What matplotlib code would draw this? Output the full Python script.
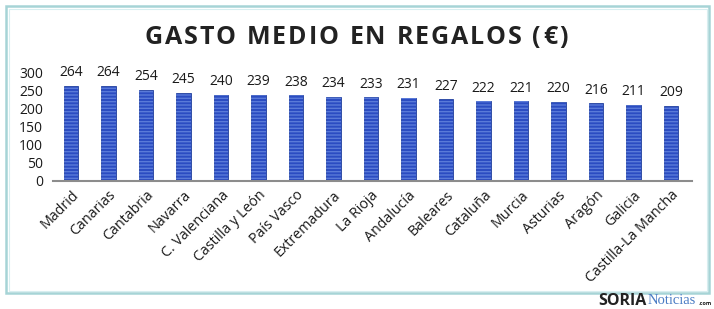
import matplotlib.pyplot as plt
from matplotlib.patches import Rectangle

# Datos
regiones = ['Madrid', 'Canarias', 'Cantabria', 'Navarra', 'C. Valenciana',
            'Castilla y León', 'País Vasco', 'Extremadura', 'La Rioja',
            'Andalucía', 'Baleares', 'Cataluña', 'Murcia', 'Asturias',
            'Aragón', 'Galicia', 'Castilla-La Mancha']
gasto = [264, 264, 254, 245, 240, 239, 238, 234, 233, 231, 227, 222, 221,
         220, 216, 211, 209]
y_ticks = [0, 50, 100, 150, 200, 250, 300]
titulo = 'GASTO MEDIO EN REGALOS (€)'

plt.rcParams['font.family'] = ['Open Sans', 'DejaVu Sans']

fig = plt.figure(figsize=(7.14, 3.09), dpi=100)

# marco del gráfico
fig.patches.append(Rectangle((6 / 714, 1 - 293 / 309), 703 / 714, 287 / 309,
                             transform=fig.transFigure, fill=False,
                             edgecolor='#a6d4d6', linewidth=1.8))
fig.patches.append(Rectangle((8.5 / 714, 1 - 290.5 / 309), 698 / 714, 282 / 309,
                             transform=fig.transFigure, fill=False,
                             edgecolor='#d8eef0', linewidth=0.8))

ax = fig.add_axes([53 / 714, 1 - 181 / 309, 639 / 714, 108 / 309])
x = range(len(regiones))

ax.bar(x, gasto, width=0.38, color='#2b4cc2', edgecolor='#22409e', linewidth=0.6)
# rayas horizontales de las barras
ax.bar(x, gasto, width=0.38, fill=False, hatch='-----', edgecolor='#5a7ad8', linewidth=0)

for i, v in enumerate(gasto):
    ax.annotate(str(v), (i, v), xytext=(0, 4), textcoords='offset points',
                ha='center', va='bottom', fontsize=10, color='#1a1a1a',
                annotation_clip=False)

ax.set_xlim(-0.48, 16.56)
ax.set_ylim(0, 300)
ax.set_yticks(y_ticks)
ax.set_yticklabels([str(t) for t in y_ticks], fontsize=10, color='#1a1a1a')
ax.set_xticks(list(x))
ax.set_xticklabels(regiones, rotation=45, ha='right', rotation_mode='anchor',
                   fontsize=10.3, color='#1a1a1a')
ax.tick_params(length=0, pad=7)
ax.tick_params(axis='x', pad=5)

for s in ['top', 'right', 'left']:
    ax.spines[s].set_visible(False)
ax.spines['bottom'].set_color('#8c8c8c')
ax.spines['bottom'].set_linewidth(1.5)

# título con espaciado entre letras
renderer = fig.canvas.get_renderer()
extra = 1.8  # px entre letras
anchos = []
letras = []
for ch in titulo:
    t = fig.text(0, 1 - 37 / 309, ch, ha='left', va='center', fontsize=18,
                 fontweight='bold', color='#222222')
    w = t.get_window_extent(renderer).width if ch != ' ' else 7.5
    anchos.append(w)
    letras.append(t)
total = sum(anchos) + extra * (len(titulo) - 1)
pos = 356 - total / 2
for t, w in zip(letras, anchos):
    t.set_x(pos / 714)
    pos += w + extra

# marca de agua
fig.text(598 / 714, 1 - 301 / 309, 'SORIA', ha='left', va='center',
         fontsize=11.5, fontweight='bold', color='#222222')
fig.text(648 / 714, 1 - 301 / 309, 'Noticias', ha='left', va='center',
         fontsize=10.5, color='#4a7cc4', family=['Liberation Serif'])
fig.text(699 / 714, 1 - 303.5 / 309, '.com', ha='left', va='center',
         fontsize=4, fontweight='bold', color='#222222')

fig.savefig('out.png', dpi=100)
